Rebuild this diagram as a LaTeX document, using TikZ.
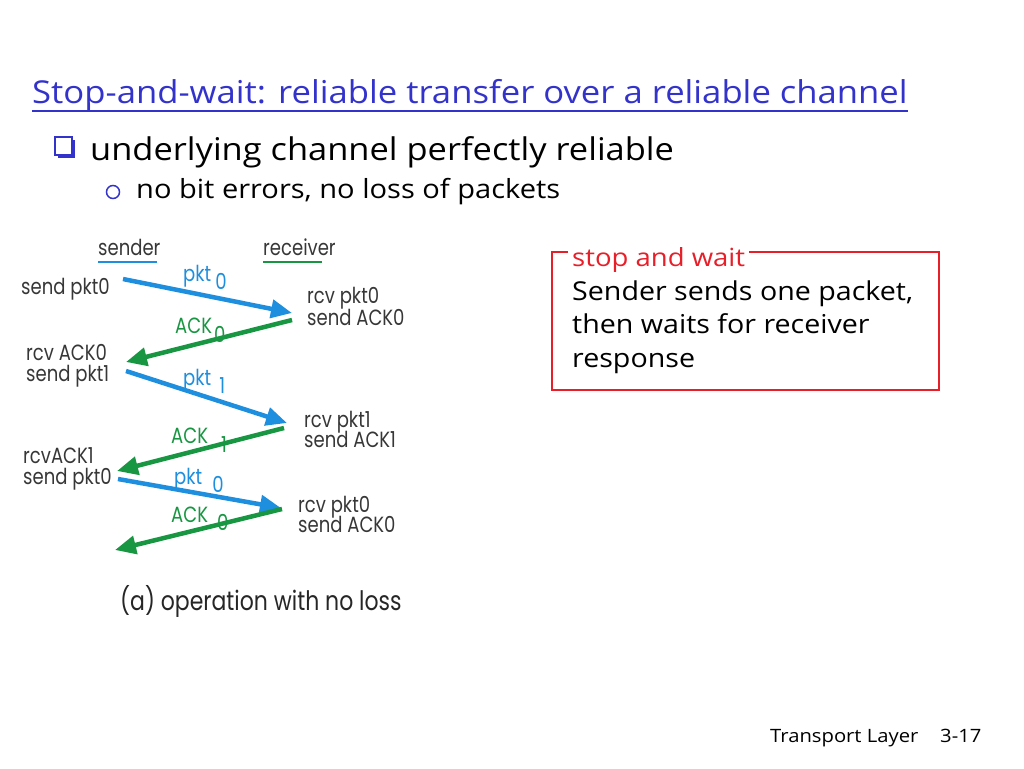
\documentclass[tikz,border=0pt]{standalone}
\usepackage{fontspec}
\setmainfont{Open Sans}[FakeStretch=1.1]
\newfontfamily\diagfont{Poppins}[FakeStretch=0.82]
\usetikzlibrary{arrows.meta}
\definecolor{titleblue}{RGB}{51,51,204}
\definecolor{pktblue}{RGB}{30,142,222}
\definecolor{ackgreen}{RGB}{24,150,66}
\definecolor{boxred}{RGB}{232,30,40}
\definecolor{diaggray}{RGB}{55,55,55}

\begin{document}
\begin{tikzpicture}[x=1pt,y=-1pt,>=latex,
    every node/.style={inner sep=0pt,anchor=base west},
    lbl/.style={font=\diagfont\fontsize{22}{24}\selectfont,text=diaggray},
    pktlbl/.style={font=\diagfont\fontsize{22}{24}\selectfont,text=pktblue},
    acklbl/.style={font=\diagfont\fontsize{22}{24}\selectfont,text=ackgreen},
    pkt/.style={pktblue,line width=4.5pt,-{Triangle[length=21pt,width=18pt]}},
    ack/.style={ackgreen,line width=4.5pt,-{Triangle[length=21pt,width=18pt]}}]
    \useasboundingbox (0,0) rectangle (1024,768);

    % slide text
    \node[font=\fontsize{31.5}{34}\selectfont,text=titleblue] (title) at (32,103) {Stop-and-wait: reliable transfer over a reliable channel};
    \draw[titleblue,line width=1.2pt] ([yshift=-8pt]title.base west) -- ([yshift=-8pt]title.base east);
    \fill[titleblue] (58,140) rectangle (75,158);
    \draw[titleblue,fill=white,line width=1.2pt] (55,137) rectangle (72,155);
    \node[font=\fontsize{31.3}{36}\selectfont] (bul1) at (90,160) {underlying channel perfectly reliable};
    \draw[titleblue,line width=1.5pt] (113,192) circle (6.5);
    \node[font=\fontsize{26.4}{28}\selectfont] (bul2) at (136,198) {no bit errors, no loss of packets};

    % sender / receiver
    \node[lbl] (sender) at (98,255) {sender};
    \node[lbl] (receiver) at (263,255) {receiver};
    \draw[pktblue,line width=2.5pt] ([yshift=-7pt]sender.base west) -- ++(59,0);
    \draw[ackgreen,line width=2.5pt] ([yshift=-7pt]receiver.base west) -- ++(59,0);

    \node[lbl] (s1) at (21,294) {send pkt0};
    \node[lbl] (r1a) at (307,303) {rcv pkt0};
    \node[lbl] (r1b) at (307,325) {send ACK0};
    \node[lbl] (s2a) at (26,360) {rcv ACK0};
    \node[lbl] (s2b) at (26,381) {send pkt1};
    \node[lbl] (r2a) at (304,427) {rcv pkt1};
    \node[lbl] (r2b) at (304,447) {send ACK1};
    \node[lbl] (s3a) at (23,463) {rcvACK1};
    \node[lbl] (s3b) at (23,484) {send pkt0};
    \node[lbl] (r3a) at (298,512) {rcv pkt0};
    \node[lbl] (r3b) at (298,532) {send ACK0};

    \coordinate (p1s) at (123,279);
    \coordinate (p1e) at (292,313);
    \coordinate (a1s) at (292,320);
    \coordinate (a1e) at (126,362);
    \coordinate (p2s) at (126,371);
    \coordinate (p2e) at (287,423);
    \coordinate (a2s) at (284,428);
    \coordinate (a2e) at (117,471);
    \coordinate (p3s) at (118,479);
    \coordinate (p3e) at (281,508);
    \coordinate (a3s) at (282,509);
    \coordinate (a3e) at (115,550);

    \draw[pkt] (p1s) -- (p1e);
    \draw[ack] (a1s) -- (a1e);
    \draw[pkt] (p2s) -- (p2e);
    \draw[ack] (a2s) -- (a2e);
    \draw[pkt] (p3s) -- (p3e);
    \draw[ack] (a3s) -- (a3e);

    \node[pktlbl] (lp1) at (183,281) {pkt\hspace{4pt}\raisebox{-8pt}{0}};
    \node[acklbl] (la1) at (175,333) {ACK\hspace{2pt}\raisebox{-9pt}{0}};
    \node[pktlbl] (lp2) at (183,385) {pkt\hspace{8pt}\raisebox{-8pt}{1}};
    \node[acklbl] (la2) at (171,443) {ACK\hspace{13pt}\raisebox{-9pt}{1}};
    \node[pktlbl] (lp3) at (174,484) {pkt\hspace{10pt}\raisebox{-8pt}{0}};
    \node[acklbl] (la3) at (171,522) {ACK\hspace{9pt}\raisebox{-8pt}{0}};

    \node[lbl,font=\diagfont\fontsize{26.8}{28}\selectfont,text=black!85] (caption) at (120,610) {(a) operation with no loss};

    % stop and wait box
    \draw[boxred,line width=1.5pt] (552,252) rectangle (939,390);
    \node[font=\fontsize{25}{28}\selectfont,text=boxred,fill=white,inner xsep=4pt] (boxtitle) at (568,266) {stop and wait};
    \node[font=\fontsize{26}{28}\selectfont] (box1) at (572,300) {Sender sends one packet,};
    \node[font=\fontsize{26}{28}\selectfont] (box2) at (572,333) {then waits for receiver};
    \node[font=\fontsize{26}{28}\selectfont] (box3) at (572,367) {response};

    % footer
    \node[font=\fontsize{18.4}{22}\selectfont] (footer) at (770,742) {Transport Layer};
    \node[font=\fontsize{18.4}{22}\selectfont] (page) at (940,742) {3-17};
\end{tikzpicture}
\end{document}
